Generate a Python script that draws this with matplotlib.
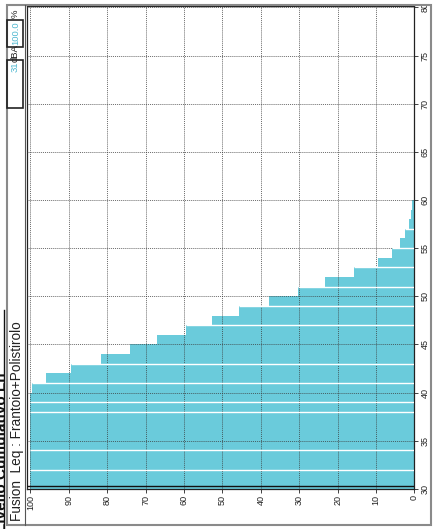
import numpy as np
import matplotlib.pyplot as plt
from matplotlib.patches import Rectangle
from matplotlib.lines import Line2D

# cumulative level distribution: percent of time above each 1 dB class
levels = [30, 31, 32, 33, 34, 35, 36, 37, 38, 39, 40, 41, 42, 43, 44, 45,
          46, 47, 48, 49, 50, 51, 52, 53, 54, 55, 56, 57, 58, 59, 60, 61]
percent = [100.0, 100.0, 100.0, 100.0, 100.0, 100.0, 100.0, 100.0, 100.0, 100.0,
           99.7, 95.9, 89.5, 81.6, 74.0, 67.0, 59.5, 52.7, 45.7, 37.9, 30.2,
           23.3, 15.7, 9.5, 5.8, 3.75, 2.4, 1.4, 0.9, 0.5, 0.2, 0.1]
# class edges where the plotter leaves a thin white seam
seams = [32, 34, 38, 39, 41, 43, 47, 49, 51, 53, 55, 57]

pct_ticks = list(range(0, 101, 10))
db_ticks = list(range(30, 81, 5))

title = 'Livello Cumulativo Ln'
source = 'Fusion  Leq : Frantoio+Polistirolo'
leq_value = '31'
leq_unit = 'dBA'
share_value = '100.0'
share_unit = '%'

BAR = '#6ACBDB'
CYAN_TXT = '#4FB8D0'
W, H = 438, 529

plt.rcParams['font.family'] = ['Liberation Sans', 'DejaVu Sans']

fig = plt.figure(figsize=(W / 100, H / 100), dpi=100)


def fx(x):
    return x / W


def fy(y):
    return 1 - y / H


left, right, top, bottom = 27, 414.4, 6, 488.8
ax = fig.add_axes([fx(left), fy(bottom), fx(right - left), (bottom - top) / H])

ax.barh(levels, percent, height=1.0, align='edge', color=BAR, zorder=2)
for s in seams:
    w = percent[levels.index(s - 1)]
    ax.hlines(s, 0, w, color='white', linewidth=1.0, zorder=3)

ax.set_xlim(100.9, 0)
ax.set_ylim(30, 80.15)
ax.set_xticks(pct_ticks)
ax.set_xticklabels([str(t) for t in pct_ticks], rotation=90, fontsize=6.5)
ax.yaxis.tick_right()
ax.set_yticks(db_ticks)
ax.set_yticklabels([str(t) for t in db_ticks], rotation=90, va='center', fontsize=6.5)
ax.tick_params(axis='both', length=3, width=0.6, pad=1.5, colors='#222222')
ax.grid(True, color='#3a3a3a', linestyle=(0, (1, 1)), linewidth=0.7, alpha=0.75, zorder=4)
ax.set_axisbelow(False)
for sp in ax.spines.values():
    sp.set_linewidth(0.9)
    sp.set_color('#222222')
ax.axhline(30.3, color='#111111', linewidth=1.0, zorder=5)

# outer frame of the report panel
fig.add_artist(Rectangle((fx(7), fy(525)), fx(431 - 7), (525 - 5) / H,
                         fill=False, edgecolor='#8a8a8a', linewidth=1.5))
fig.add_artist(Line2D([fx(25), fx(25)], [fy(5), fy(525)], color='#555555', linewidth=0.8))

# side strip: source label and summary boxes
fig.text(fx(17), fy(521), source, rotation=90, ha='center', va='bottom',
         fontsize=9.8, color='#222222')
fig.add_artist(Rectangle((fx(7), fy(108)), fx(16), 48 / H, fill=False,
                         edgecolor='#222222', linewidth=1.2))
fig.add_artist(Rectangle((fx(7), fy(47)), fx(16), 27 / H, fill=False,
                         edgecolor='#222222', linewidth=1.2))
fig.text(fx(15.5), fy(61.5), leq_value, rotation=90, ha='center', va='top',
         fontsize=6.8, color=CYAN_TXT)
fig.text(fx(15.5), fy(53.5), leq_unit, rotation=90, ha='center', va='center',
         fontsize=6.8, color='#222222')
fig.text(fx(15.5), fy(33.5), share_value, rotation=90, ha='center', va='center',
         fontsize=6.8, color=CYAN_TXT)
fig.text(fx(15.5), fy(13.5), share_unit, rotation=90, ha='center', va='center',
         fontsize=6.8, color='#222222')

# heading, running off the left edge of the page
fig.text(fx(-5), fy(532), title, rotation=90, ha='left', va='bottom',
         fontsize=11, fontweight='bold', color='#111111')
fig.add_artist(Line2D([fx(4), fx(4)], [fy(529), fy(310)], color='#111111', linewidth=1.0))

fig.savefig('out.png', dpi=100)
